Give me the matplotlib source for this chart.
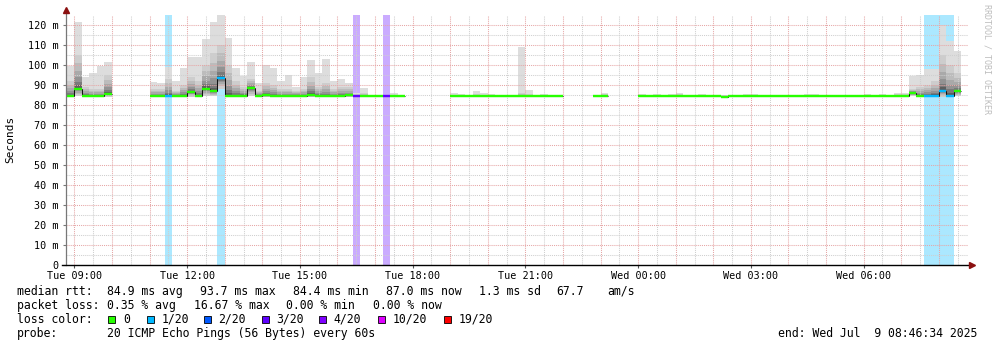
import numpy as np
import matplotlib
matplotlib.use("Agg")
import matplotlib.pyplot as plt
from matplotlib.patches import Rectangle
from matplotlib.collections import LineCollection
from matplotlib.colors import to_rgb

W, H = 997, 347
MONO = "DejaVu Sans Mono"

# time axis in hours since Tue 00:00, 12 minute bins starting Tue 08:48
t_end = 24 + 8 + 46 / 60 + 34 / 3600
t_start = t_end - 24
bin_first = 8.8
bin_w = 0.2
N = 120

# median rtt per bin (ms), None = no data
med = [84.4, 88.2, 84.4, 84.4, 84.4, 85.7, None, None, None, None,
       None, 84.4, 84.4, 84.4, 84.4, 84.4, 86.4, 84.4, 88.2, 86.8,
       93.3, 84.4, 84.4, 84.4, 88.4, 84.4, 85.0, 84.4, 84.4, 84.4,
       84.4, 84.4, 85.0, 84.4, 84.4, 84.4, 84.4, 84.8, 84.4, 84.4,
       84.4, 84.4, 84.4, 84.4, 84.4, None, None, None, None, None,
       None, 84.4, 84.4, 84.4, 84.4, 84.4, 84.4, 84.4, 84.4, 84.4,
       84.4, 84.4, 84.4, 84.4, 84.4, 84.4, None, None, None, None,
       84.4, 84.4, None, None, None, None, 84.4, 84.4, 84.4, 84.4,
       84.4, 84.4, 84.4, 84.4, 84.4, 84.4, 84.4, 83.8, 84.4, 84.4,
       84.4, 84.4, 84.4, 84.4, 84.4, 84.4, 84.4, 84.4, 84.4, 84.4,
       84.4, 84.4, 84.4, 84.4, 84.4, 84.4, 84.4, 84.4, 84.4, 84.4,
       84.4, 84.4, 86.2, 84.4, 84.4, 84.7, 87.0, 84.7, 86.8, None]

# slowest ping per bin (top of smoke)
hi = [99.5, 121.5, 94.2, 96.2, 99.5, 101.5, None, None, None, None,
      None, 91.7, 91.0, 99.0, 92.2, 98.5, 104.0, 104.0, 113.0, 121.5,
      126.0, 113.3, 98.5, 94.3, 101.5, 91.0, 100.0, 98.7, 92.0, 95.0,
      89.0, 94.0, 102.5, 96.0, 103.0, 92.0, 93.0, 91.0, 86.0, 88.7,
      84.9, 84.9, 84.9, 86.0, 85.0, None, None, None, None, None,
      None, 86.2, 85.5, 85.0, 87.2, 86.2, 85.5, 85.0, 85.0, 85.0,
      108.8, 87.5, 85.0, 85.5, 85.0, 85.0, None, None, None, None,
      85.0, 86.2, None, None, None, None, 85.5, 85.0, 85.5, 84.9,
      85.7, 86.2, 84.9, 84.9, 85.5, 85.2, 84.9, 85.2, 84.9, 84.9,
      85.5, 85.5, 84.9, 85.2, 84.9, 84.9, 84.9, 84.9, 85.5, 85.5,
      84.9, 84.9, 84.9, 85.2, 84.9, 84.9, 85.5, 84.9, 85.5, 85.2,
      85.8, 86.0, 94.5, 95.0, 97.8, 98.0, 120.0, 112.0, 107.0, None]

# upper edge of the dense (darker) part of the smoke
mid = [92, 105, 89, 88, 88, 95, None, None, None, None,
       None, 88, 88, 93, 87, 90, 94, 92, 100, 106,
       110, 100, 92, 89, 93, 87, 91, 90, 88, 88,
       87, 88, 94, 89, 91, 88, 89, 89, 85.5, 86,
       84.7, 84.7, 84.7, 85.2, 84.8, None, None, None, None, None,
       None, 85.2, 85.0, 84.8, 85.5, 85.2, 85.0, 84.8, 84.8, 84.8,
       86.0, 85.5, 84.8, 85.0, 84.8, 84.8, None, None, None, None,
       84.8, 85.5, None, None, None, None, 85.0, 84.8, 85.0, 84.7,
       85.0, 85.3, 84.7, 84.7, 85.0, 84.9, 84.7, 84.8, 84.7, 84.7,
       85.0, 85.0, 84.7, 85.0, 84.7, 84.7, 84.7, 84.7, 85.0, 85.0,
       84.7, 84.7, 84.7, 84.9, 84.7, 84.7, 85.0, 84.7, 85.0, 84.9,
       85.3, 85.3, 88, 89, 90, 92, 105, 100, 96, None]

# fastest ping per bin (bottom of smoke)
lo = [84.0, 84.3, 84.0, 84.0, 84.0, 84.2, None, None, None, None,
      None, 84.0, 84.0, 84.0, 84.0, 84.0, 84.2, 84.0, 84.3, 84.3,
      88.0, 84.2, 84.0, 84.0, 84.3, 84.0, 84.0, 84.0, 84.0, 84.0,
      84.0, 84.0, 84.0, 84.0, 84.0, 84.0, 84.0, 84.0, 84.0, 84.0,
      84.2, 84.2, 84.2, 84.2, 84.2, None, None, None, None, None,
      None, 84.2, 84.2, 84.2, 84.2, 84.2, 84.2, 84.2, 84.2, 84.2,
      84.2, 84.2, 84.2, 84.2, 84.2, 84.2, None, None, None, None,
      84.2, 84.2, None, None, None, None, 84.2, 84.2, 84.2, 84.2,
      84.2, 84.2, 84.2, 84.2, 84.2, 84.2, 84.2, 83.6, 84.2, 84.2,
      84.2, 84.2, 84.2, 84.2, 84.2, 84.2, 84.2, 84.2, 84.2, 84.2,
      84.2, 84.2, 84.2, 84.2, 84.2, 84.2, 84.2, 84.2, 84.2, 84.2,
      84.2, 84.2, 84.3, 84.2, 84.2, 84.2, 84.0, 84.2, 84.3, None]

# bins with packet loss (lost pings out of 20)
loss_bins = [13, 20, 38, 42, 114, 115, 116, 117]
loss_count = [1, 1, 3, 3, 1, 1, 1, 1]

loss_labels = ["0", "1/20", "2/20", "3/20", "4/20", "10/20", "19/20"]
loss_levels = [0, 1, 2, 3, 4, 10, 19]
loss_hex = ["#26ff00", "#00b8ff", "#0059ff", "#5e00ff", "#7e00ff", "#dd00ff", "#ff0000"]
loss_col = dict(zip(loss_levels, loss_hex))

yticks = [0, 10, 20, 30, 40, 50, 60, 70, 80, 90, 100, 110, 120]
xticks = [9, 12, 15, 18, 21, 24, 27, 30]
xlabels = ["Tue 09:00", "Tue 12:00", "Tue 15:00", "Tue 18:00",
           "Tue 21:00", "Wed 00:00", "Wed 03:00", "Wed 06:00"]


def lighten(c, a=0.33):
    r = np.array(to_rgb(c))
    return tuple(1 - a * (1 - r))


fig = plt.figure(figsize=(W / 100, H / 100), dpi=100)
fig.patch.set_facecolor("white")
ax = fig.add_axes([66 / W, 82 / H, 902 / W, 250 / H])
ax.set_xlim(t_start, t_end)
ax.set_ylim(0, 125)
for s in ax.spines.values():
    s.set_visible(False)

starts = bin_first + bin_w * np.arange(N)
loss = np.zeros(N, dtype=int)
loss[loss_bins] = loss_count

# loss background columns
for b, c in zip(loss_bins, loss_count):
    ax.bar(starts[b], 125, width=bin_w, align="edge", bottom=0,
           color=lighten(loss_col[c]), linewidth=0, zorder=1)

# smoke
have = [i for i in range(N) if med[i] is not None]
bx = starts[have]
m_ = np.array([med[i] for i in have])
h_ = np.array([hi[i] for i in have])
md_ = np.array([mid[i] for i in have])
l_ = np.array([lo[i] for i in have])
ax.bar(bx, h_ - l_, bottom=l_, width=bin_w, align="edge", color="#dddddd", linewidth=0, zorder=2)
ax.bar(bx, md_ - l_, bottom=l_, width=bin_w, align="edge", color="#cdcdcd", linewidth=0, zorder=2)
shades = ["#bcbcbc", "#a9a9a9", "#939393", "#7a7a7a", "#5e5e5e"]
fracs = [0.75, 0.52, 0.34, 0.2, 0.1]
for f, sh in zip(fracs, shades):
    top = m_ + (md_ - m_) * f
    bot = m_ - (m_ - l_) * f
    ax.bar(bx, top - bot, bottom=bot, width=bin_w, align="edge", color=sh, linewidth=0, zorder=2)

# grid
gdash = (0, (1, 1))
for h in np.arange(9, 33, 1.0):
    ax.axvline(h, color="#e6a6a6", lw=0.75, ls=gdash, zorder=3)
for h in np.arange(9.5, 33, 1.0):
    ax.axvline(h, color="#cfcfcf", lw=0.75, ls=gdash, zorder=3)
for v in np.arange(10, 125, 10):
    ax.axhline(v, color="#e6a6a6", lw=0.75, ls=gdash, zorder=3)
for v in np.arange(5, 125, 10):
    ax.axhline(v, color="#cfcfcf", lw=0.75, ls=gdash, zorder=3)

# median: dark step line then loss coloured segments
segs = []
for i in have:
    x0, x1 = starts[i], starts[i] + bin_w
    segs.append([(x0, med[i]), (x1, med[i])])
    if i + 1 < N and med[i + 1] is not None:
        segs.append([(x1, med[i]), (x1, med[i + 1])])
ax.add_collection(LineCollection(segs, colors="#111111", linewidths=0.75, zorder=4))
ax.hlines(m_, bx, bx + bin_w, colors=[loss_col[loss[i]] for i in have],
          linewidth=1.7, zorder=5, capstyle="butt")

# axes with arrows
ax.plot([t_start, t_start], [0, 126.5], color="#777777", lw=0.9, clip_on=False, zorder=6)
ax.plot([t_start - 0.1, t_end + 0.05], [0, 0], color="black", lw=1.0, clip_on=False, zorder=6)
ax.plot([t_start], [127.5], marker="^", ms=4, color="#8b1010", clip_on=False, zorder=7)
ax.plot([t_end + 0.1], [0], marker=">", ms=4, color="#8b1010", clip_on=False, zorder=7)

ax.set_yticks(yticks)
ax.set_yticklabels(["0"] + ["%d m" % v for v in yticks[1:]], fontfamily=MONO, fontsize=7.3)
ax.set_xticks(xticks)
ax.set_xticklabels(xlabels, fontfamily=MONO, fontsize=7.3)
ax.tick_params(axis="y", length=2.5, width=0.8, color="#777777", pad=3)
ax.tick_params(axis="x", length=2.5, width=0.8, color="#555555", pad=2)

fig.text(10 / W, 1 - 139 / H, "Seconds", rotation=90, ha="center", va="center",
         fontfamily=MONO, fontsize=8)
fig.text(987 / W, 1 - 4 / H, "RRDTOOL / TOBI OETIKER", rotation=270, ha="center", va="top",
         fontfamily=MONO, fontsize=6, color="#bdbdbd")


def ftxt(x, y, s, **kw):
    fig.text(x / W, 1 - y / H, s, ha="left", va="center", fontfamily=MONO, fontsize=8.3, **kw)


y1, y2, y3, y4 = 291.5, 305.5, 319.3, 333.3
ftxt(16.7, y1, "median rtt:")
ftxt(107.3, y1, "84.9 ms avg")
ftxt(200, y1, "93.7 ms max")
ftxt(293.3, y1, "84.4 ms min")
ftxt(386, y1, "87.0 ms now")
ftxt(479, y1, "1.3 ms sd")
ftxt(556.7, y1, "67.7")
ftxt(607.3, y1, "am/s")

ftxt(16.7, y2, "packet loss:")
ftxt(107.3, y2, "0.35 % avg")
ftxt(193.5, y2, "16.67 % max")
ftxt(286, y2, "0.00 % min")
ftxt(372.7, y2, "0.00 % now")

ftxt(16.7, y3, "loss color:")
box_x = [108.3, 146.7, 204, 261.7, 319.3, 377.7, 444.3]
for bxp, lab, col in zip(box_x, loss_labels, loss_hex):
    fig.patches.append(Rectangle((bxp / W, 1 - 322.5 / H), 7 / W, 7 / H,
                                 transform=fig.transFigure, facecolor=col,
                                 edgecolor="black", linewidth=0.6))
    ftxt(bxp + 14.5, y3, lab)

ftxt(16.7, y4, "probe:")
ftxt(107.3, y4, "20 ICMP Echo Pings (56 Bytes) every 60s")
ftxt(778.3, y4, "end: Wed Jul  9 08:46:34 2025")

fig.savefig("out.png", dpi=100, facecolor="white")
